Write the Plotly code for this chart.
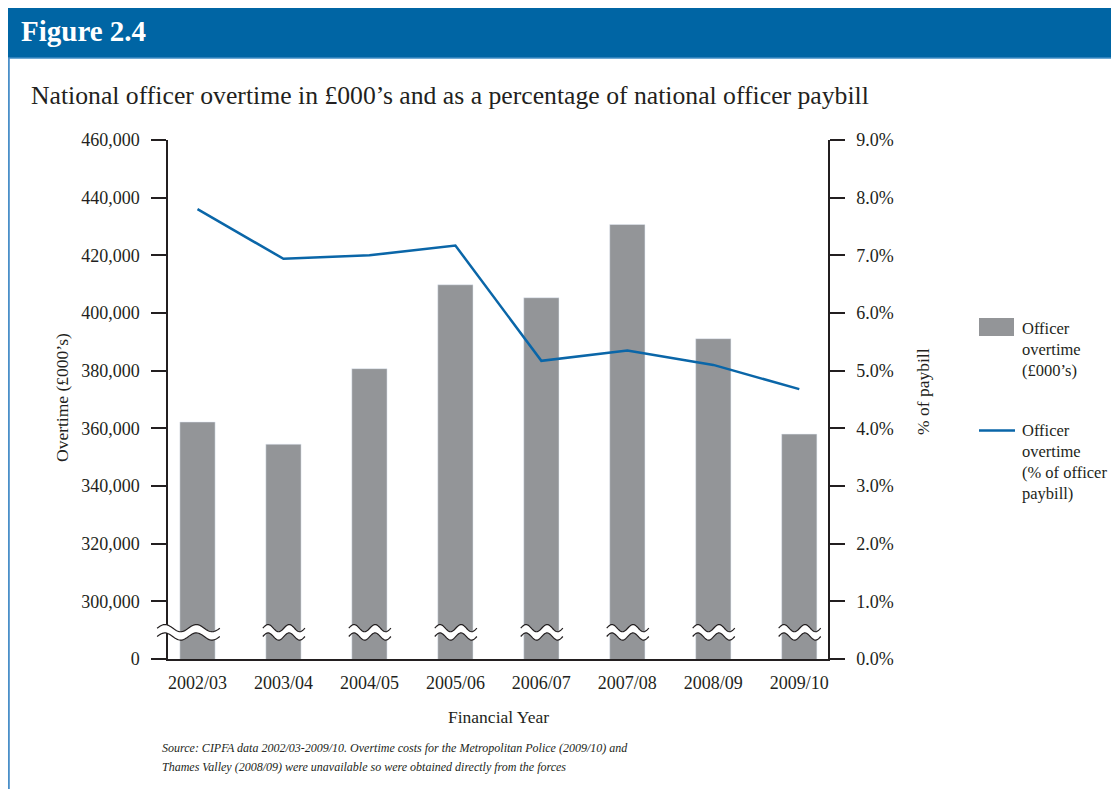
import numpy as np
import plotly.graph_objects as go

# data
years = ["2002/03", "2003/04", "2004/05", "2005/06", "2006/07", "2007/08", "2008/09", "2009/10"]
overtime_k = [362200, 354500, 380700, 409800, 405300, 430700, 391100, 358000]
pct_paybill = [7.80, 6.94, 7.00, 7.17, 5.17, 5.35, 5.10, 4.68]

left_ticks = [300000, 320000, 340000, 360000, 380000, 400000, 420000, 440000, 460000]
right_ticks = [0, 1, 2, 3, 4, 5, 6, 7, 8, 9]
AXIS_BREAK = 280000   # the value sitting on the "0" line (scale is broken below 300,000)

# the page body has an 8px margin, so shrink the figure to avoid scrollbars
OFF = 8
W, H = 1119 - 2 * OFF, 797 - 2 * OFF
ML, MT = 168 - OFF, 140 - OFF
MR = W - (828 - OFF)
MB = H - (659 - OFF)
PW, PH = W - ML - MR, H - MT - MB
XR = [-0.343, len(years) - 1 + 0.334]
YR = [AXIS_BREAK, 460000]

BLUE = "#0065a4"
LINE_BLUE = "#0a66a8"
GREY = "#939598"
INK = "#231f20"
FONT = "Liberation Serif"


# page pixel -> paper coords
def fx(px):
    return (px - OFF - ML) / PW


def fy(py):
    return (H - MB - (py - OFF)) / PH


# data -> paper coords
def dx(v):
    return (v - XR[0]) / (XR[1] - XR[0])


def dy(v):
    return (v - YR[0]) / (YR[1] - YR[0])


xs = list(range(len(years)))

fig = go.Figure()
fig.add_trace(go.Bar(x=xs, y=overtime_k, marker_color=GREY, width=0.41,
                     name="Officer overtime (£000's)", showlegend=False))
fig.add_trace(go.Scatter(x=xs, y=pct_paybill, mode="lines", yaxis="y2",
                         line=dict(color=LINE_BLUE, width=2.5),
                         name="Officer overtime (% of officer paybill)", showlegend=False))

# axis-break squiggles over the foot of each bar
shapes = []
for i in xs:
    lo, hi = (i - 0.47, i + 0.26) if i == 0 else (i - 0.24, i + 0.25)
    t = np.linspace(0, 1, 60)
    xx = [dx(lo + (hi - lo) * k) for k in t]
    up = [dy(290700 + 1250 * np.sin(4 * np.pi * k)) for k in t]
    dn = [dy(287800 + 1250 * np.sin(4 * np.pi * k)) for k in t]
    band = "M " + " L ".join(f"{a:.5f},{b:.5f}" for a, b in zip(xx, up))
    band += " L " + " L ".join(f"{a:.5f},{b:.5f}" for a, b in zip(xx[::-1], dn[::-1])) + " Z"
    shapes.append(dict(type="path", xref="paper", yref="paper", path=band,
                       fillcolor="white", line=dict(width=0), layer="above"))
    for c in (up, dn):
        p = "M " + " L ".join(f"{a:.5f},{b:.5f}" for a, b in zip(xx, c))
        shapes.append(dict(type="path", xref="paper", yref="paper", path=p,
                           line=dict(color=INK, width=1.2), layer="above"))

# header bar and frame
shapes.append(dict(type="rect", xref="paper", yref="paper", x0=fx(0), x1=fx(1125),
                   y0=fy(58), y1=fy(0), fillcolor=BLUE, line=dict(width=0), layer="below"))
shapes.append(dict(type="line", xref="paper", yref="paper", x0=fx(0), x1=fx(1125),
                   y0=fy(58), y1=fy(58), line=dict(color="#3f8cc4", width=1.5)))
shapes.append(dict(type="line", xref="paper", yref="paper", x0=fx(8.8), x1=fx(8.8),
                   y0=fy(58), y1=fy(800), line=dict(color="#4a8fc8", width=2)))

# hand-made legend
shapes.append(dict(type="rect", xref="paper", yref="paper", x0=fx(979), x1=fx(1014),
                   y0=fy(336), y1=fy(318), fillcolor=GREY, line=dict(width=0)))
shapes.append(dict(type="line", xref="paper", yref="paper", x0=fx(979), x1=fx(1015),
                   y0=fy(430.5), y1=fy(430.5), line=dict(color=LINE_BLUE, width=2.5)))

annotations = [
    dict(text="<b>Figure 2.4</b>", x=fx(19), y=fy(31), xanchor="left", yanchor="middle",
         font=dict(size=29, color="white", family=FONT)),
    dict(text="National officer overtime in £000’s and as a percentage of national officer paybill",
         x=fx(29), y=fy(95), xanchor="left", yanchor="middle",
         font=dict(size=25.7, color=INK, family=FONT)),
    dict(text="Overtime (£000’s)", x=fx(62), y=fy(398), textangle=-90,
         xanchor="center", yanchor="middle", font=dict(size=17.5, color=INK, family=FONT)),
    dict(text="% of paybill", x=fx(923), y=fy(392), textangle=-90,
         xanchor="center", yanchor="middle", font=dict(size=17.5, color=INK, family=FONT)),
    dict(text="Financial Year", x=fx(499), y=fy(717), xanchor="center", yanchor="middle",
         font=dict(size=17.5, color=INK, family=FONT)),
    dict(text="<i>Source: CIPFA data 2002/03-2009/10. Overtime costs for the Metropolitan Police (2009/10) and</i>",
         x=fx(160), y=fy(748), xanchor="left", yanchor="middle",
         font=dict(size=12, color=INK, family=FONT)),
    dict(text="<i>Thames Valley (2008/09) were unavailable so were obtained directly from the forces</i>",
         x=fx(160), y=fy(767), xanchor="left", yanchor="middle",
         font=dict(size=12, color=INK, family=FONT)),
]
legend_lines = [("Officer", 328), ("overtime", 349), ("(£000’s)", 370),
                ("Officer", 430), ("overtime", 451), ("(% of officer", 472), ("paybill)", 493)]
for txt, yy in legend_lines:
    annotations.append(dict(text=txt, x=fx(1020), y=fy(yy), xanchor="left", yanchor="middle",
                            font=dict(size=16.5, color=INK, family=FONT)))
for a in annotations:
    a.update(xref="paper", yref="paper", showarrow=False)

tickfont = dict(size=18, color=INK, family=FONT)
fig.update_layout(
    width=W, height=H,
    margin=dict(l=ML, r=MR, t=MT, b=MB),
    paper_bgcolor="white", plot_bgcolor="white",
    font=dict(family=FONT, color=INK),
    shapes=shapes, annotations=annotations,
    xaxis=dict(range=XR, tickvals=xs, ticktext=years, ticks="", showgrid=False,
               zeroline=False, showline=True, linecolor=INK, linewidth=1.5,
               tickfont=tickfont, ticklabelstandoff=7),
    yaxis=dict(range=YR, tickvals=[AXIS_BREAK] + left_ticks,
               ticktext=["0"] + [f"{v:,}" for v in left_ticks],
               ticks="outside", ticklen=15, tickwidth=1.5, tickcolor=INK,
               showline=True, linecolor=INK, linewidth=1.5, showgrid=False,
               zeroline=False, tickfont=tickfont, ticklabelstandoff=8),
    yaxis2=dict(range=[0, 9], overlaying="y", side="right", tickvals=right_ticks,
                ticktext=[f"{v:.1f}%" for v in right_ticks],
                ticks="outside", ticklen=15, tickwidth=1.5, tickcolor=INK,
                showline=True, linecolor=INK, linewidth=1.5, showgrid=False,
                zeroline=False, tickfont=tickfont, ticklabelstandoff=8),
    showlegend=False,
)

fig.write_html("out.html")
